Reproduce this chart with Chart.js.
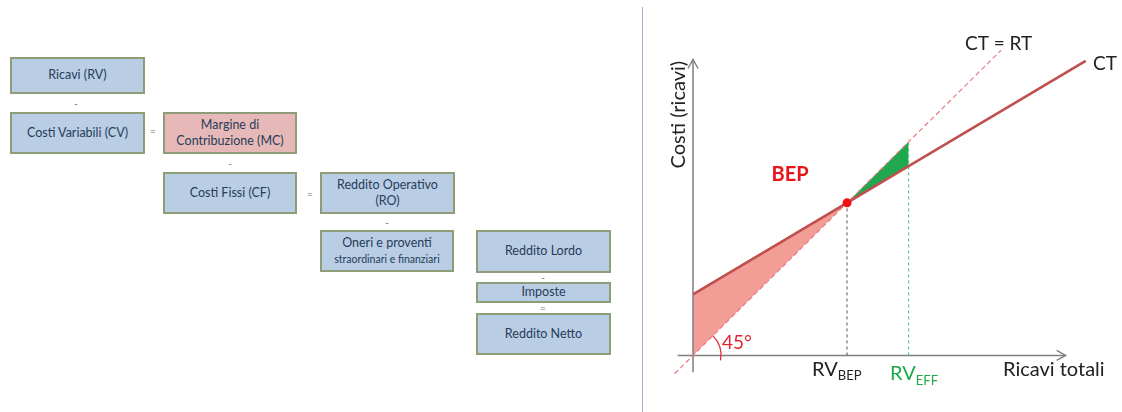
<!DOCTYPE html>
<html>
<head>
<meta charset="utf-8">
<script src="https://cdn.jsdelivr.net/npm/chart.js@4.4.1/dist/chart.umd.min.js"></script>
<style>
  html, body { margin: 0; padding: 0; background: #fff; }
  #page { position: relative; width: 1122px; height: 412px; overflow: hidden; font-family: Lato, "Open Sans", sans-serif; }
  .box { position: absolute; box-sizing: border-box; border: 2px solid #8e9c78; background: #b9cde5; color: #263c58;
         display: flex; align-items: center; justify-content: center; text-align: center; font-size: 12.5px; line-height: 1.3; }
  .box > span { display: block; }
  .box.mc { background: #e6b9b8; }
  .box small { font-size: 10.5px; }
  .op { position: absolute; font-size: 10px; color: #6a6a6a; transform: translate(-50%, -50%); }
  #sep { position: absolute; left: 642px; top: 7px; width: 1px; height: 405px; background: #a3b6ca; }
  #chartWrap { position: absolute; left: 650px; top: 0; width: 472px; height: 412px; }
</style>
</head>
<body>
<div id="page">
  <div id="diagram"></div>
  <div id="sep"></div>
  <div id="chartWrap"><canvas id="bep" width="472" height="412"></canvas></div>
</div>
<script>
// ---- Income statement scheme ----
const boxLabels = [
  'Ricavi (RV)',
  'Costi Variabili (CV)',
  'Margine di<br>Contribuzione (MC)',
  'Costi Fissi (CF)',
  'Reddito Operativo<br>(RO)',
  'Oneri e proventi<br><small>straordinari e finanziari</small>',
  'Reddito Lordo',
  'Imposte',
  'Reddito Netto'
];
const operatorLabels = ['-', '=', '-', '=', '-', '-', '='];

// ---- Break-even chart values ----
// total costs CT
const ctX = [0, 10, 14, 25.5];
const ctY = [4, 10, 12.4, 19.3];
// revenues on the 45° line (CT = RT)
const rtX = [-1.2, 0, 10, 14, 20];
const rtY = [-1.2, 0, 10, 14, 20];
// break-even point and effective revenues
const bepX = 10, bepY = 10;
const effX = 14, effTop = 14.2;
// axis extents
const axisXRange = [-1, 24.2];
const axisYRange = [-1.1, 19.4];

// layout of the scheme
const boxLayout = [
  [10, 57, 135, 37],
  [10, 112, 135, 42],
  [163, 112, 134, 42, 'mc'],
  [163, 172, 134, 42],
  [320, 172, 135, 42],
  [320, 230, 134, 42],
  [476, 230, 135, 43],
  [476, 282, 135, 21],
  [476, 313, 135, 42]
];
const opLayout = [[76, 103], [153, 131], [230, 163], [310, 194], [387, 222], [543, 277], [543, 308]];

const diagram = document.getElementById('diagram');
boxLabels.forEach((t, i) => {
  const [l, tp, w, h, cls] = boxLayout[i];
  const d = document.createElement('div');
  d.className = 'box' + (cls ? ' ' + cls : '');
  Object.assign(d.style, { left: l + 'px', top: tp + 'px', width: w + 'px', height: h + 'px' });
  const s = document.createElement('span');
  s.innerHTML = t;
  d.appendChild(s);
  diagram.appendChild(d);
});
operatorLabels.forEach((t, i) => {
  const d = document.createElement('div');
  d.className = 'op';
  d.style.left = opLayout[i][0] + 'px';
  d.style.top = opLayout[i][1] + 'px';
  d.textContent = t;
  diagram.appendChild(d);
});

// ---- chart ----
const pts = (xs, ys, lo, hi) => xs.map((x, i) => ({ x, y: ys[i] })).filter(p => p.x >= lo && p.x <= hi);

const RED_LINE = '#c0504d';
const RT_DASH = '#ec7b83';
const GREEN = '#1fa84f';
const FONT = 'Lato, "Open Sans", sans-serif';

const annotations = {
  id: 'annotations',
  afterDatasetsDraw(chart) {
    const { ctx } = chart;
    const xs = chart.scales.x, ys = chart.scales.y;
    const X = v => xs.getPixelForValue(v), Y = v => ys.getPixelForValue(v);
    ctx.save();
    // arrow heads
    ctx.strokeStyle = '#7f7f7f';
    ctx.lineWidth = 1.3;
    const ax = X(axisXRange[1]), ay = Y(0);
    ctx.beginPath(); ctx.moveTo(ax - 9, ay - 5); ctx.lineTo(ax, ay); ctx.lineTo(ax - 9, ay + 5); ctx.stroke();
    const bx = X(0), by = Y(axisYRange[1]);
    ctx.beginPath(); ctx.moveTo(bx - 5, by + 9); ctx.lineTo(bx, by); ctx.lineTo(bx + 5, by + 9); ctx.stroke();
    // 45° arc
    ctx.strokeStyle = '#e2242f';
    ctx.lineWidth = 1.2;
    ctx.beginPath(); ctx.arc(X(0), Y(0), 28, -Math.PI / 4, Math.PI / 18); ctx.stroke();

    ctx.textBaseline = 'alphabetic';
    ctx.textAlign = 'left';
    const txt = (s, x, y, size, color, weight) => {
      ctx.font = (weight || 'normal') + ' ' + size + 'px ' + FONT;
      ctx.fillStyle = color;
      ctx.fillText(s, x, y);
      return ctx.measureText(s).width;
    };
    // labels
    txt('45°', X(1.88), Y(0.45), 19, '#e2242f');
    ctx.textAlign = 'center';
    txt('BEP', X(6.3), Y(11.4), 20, '#e8141c', 'bold');
    ctx.textAlign = 'left';
    let w = txt('RV', X(7.73), Y(-1.36), 20, '#222');
    txt('BEP', X(7.73) + w, Y(-1.62), 13, '#222');
    w = txt('RV', X(12.8), Y(-1.62), 20, GREEN);
    txt('EFF', X(12.8) + w, Y(-1.95), 13, GREEN);
    txt('Ricavi totali', X(20.13), Y(-1.36), 20, '#222');
    txt('CT = RT', X(17.66), Y(20.0), 19, '#222');
    txt('CT', X(25.97), Y(18.7), 19, '#222');
    // vertical axis title
    ctx.translate(X(-0.52), Y(15.78));
    ctx.rotate(-Math.PI / 2);
    ctx.textAlign = 'center';
    txt('Costi (ricavi)', 0, 0, 20, '#222');
    ctx.restore();
  }
};

new Chart(document.getElementById('bep'), {
  type: 'scatter',
  data: {
    datasets: [
      { // BEP marker
        data: [{ x: bepX, y: bepY }], pointRadius: 4.5, pointBackgroundColor: '#f01010', pointBorderWidth: 0, showLine: false, order: 0
      },
      { // total costs
        data: pts(ctX, ctY, -Infinity, Infinity), showLine: true, borderColor: RED_LINE, borderWidth: 2.6, pointRadius: 0, order: 1
      },
      { // CT = RT
        data: pts(rtX, rtY, -Infinity, Infinity), showLine: true, borderColor: RT_DASH, borderWidth: 1.2, borderDash: [5, 3], pointRadius: 0, order: 2
      },
      { // RV_BEP guide
        data: [{ x: bepX, y: 0 }, { x: bepX, y: bepY }], showLine: true, borderColor: '#555', borderWidth: 1, borderDash: [3, 3], pointRadius: 0, order: 3
      },
      { // RV_EFF guide
        data: [{ x: effX, y: 0 }, { x: effX, y: effTop }], showLine: true, borderColor: '#4cbf7a', borderWidth: 1, borderDash: [3, 3], pointRadius: 0, order: 3
      },
      { // x axis
        data: [{ x: axisXRange[0], y: 0 }, { x: axisXRange[1], y: 0 }], showLine: true, borderColor: '#7f7f7f', borderWidth: 1.5, pointRadius: 0, order: 4
      },
      { // y axis
        data: [{ x: 0, y: axisYRange[0] }, { x: 0, y: axisYRange[1] }], showLine: true, borderColor: '#7f7f7f', borderWidth: 1.5, pointRadius: 0, order: 4
      },
      { // loss area: upper edge (costs)
        data: pts(ctX, ctY, 0, bepX), showLine: true, borderWidth: 0, borderColor: 'rgba(0,0,0,0)', pointRadius: 0,
        fill: 8, backgroundColor: 'rgba(240,140,130,0.85)', order: 10
      },
      { // loss area: lower edge (revenues)
        data: pts(rtX, rtY, 0, bepX), showLine: true, borderWidth: 0, borderColor: 'rgba(0,0,0,0)', pointRadius: 0, order: 11
      },
      { // profit area: upper edge (revenues)
        data: pts(rtX, rtY, bepX, effX), showLine: true, borderWidth: 0, borderColor: 'rgba(0,0,0,0)', pointRadius: 0,
        fill: 10, backgroundColor: GREEN, order: 10
      },
      { // profit area: lower edge (costs)
        data: pts(ctX, ctY, bepX, effX), showLine: true, borderWidth: 0, borderColor: 'rgba(0,0,0,0)', pointRadius: 0, order: 11
      }
    ]
  },
  options: {
    responsive: false,
    devicePixelRatio: 1,
    animation: false,
    layout: { padding: { left: 12.2, right: 13.2, top: 0.8, bottom: 10.8 } },
    plugins: { legend: { display: false }, tooltip: { enabled: false } },
    scales: {
      x: { type: 'linear', min: -2, max: 27, display: false },
      y: { type: 'linear', min: -3, max: 23, display: false }
    },
    elements: { line: { tension: 0 } }
  },
  plugins: [annotations]
});
</script>
</body>
</html>
